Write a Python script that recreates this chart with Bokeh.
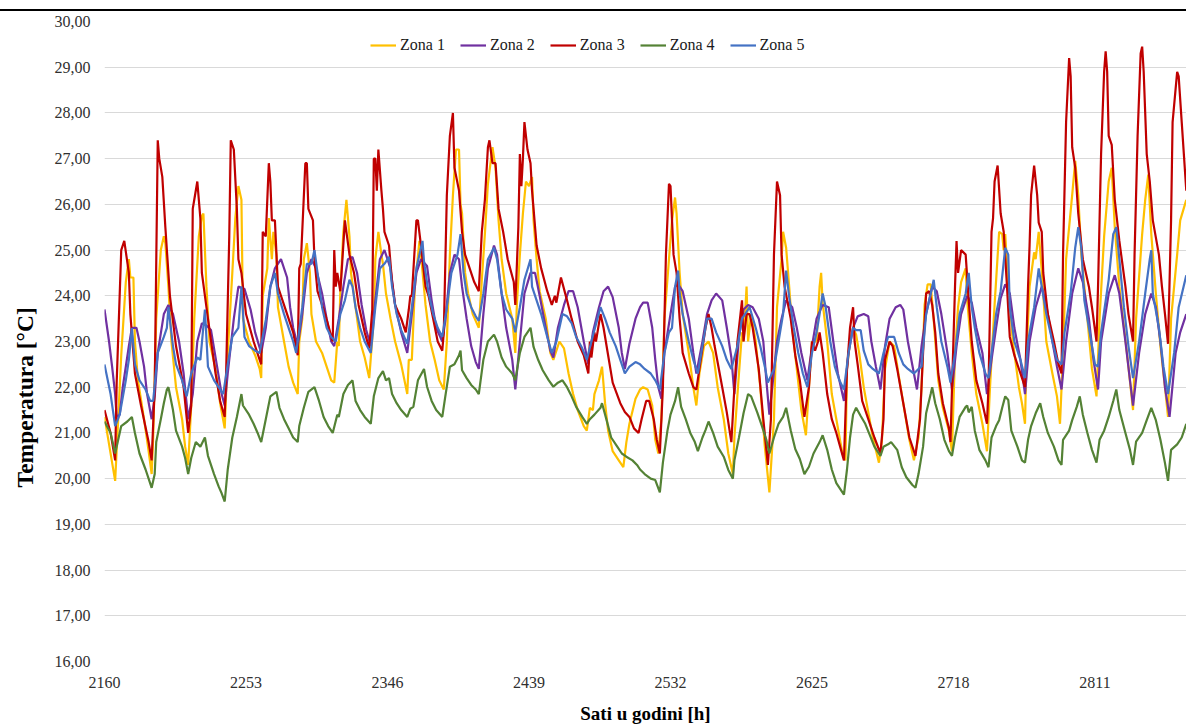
from bokeh.plotting import figure
from bokeh.models import (Range1d, FixedTicker, CustomJSTickFormatter, Legend, LegendItem, Div)
from bokeh.layouts import column
from bokeh.embed import file_html
from bokeh.resources import INLINE

series_names = ["Zona 1", "Zona 2", "Zona 3", "Zona 4", "Zona 5"]
series_colors = ["#FFC000", "#7030A0", "#C00000", "#548235", "#4472C4"]
x_ticks = [2160, 2253, 2346, 2439, 2532, 2625, 2718, 2811]
y_ticks = list(range(16, 31))

# Zona 1
hours_z1 = [2160, 2167, 2169, 2171, 2174, 2176, 2177, 2179, 2180, 2182, 2186, 2189, 2191, 2192, 2194, 2197, 2199, 2200, 2202, 2204,
            2207, 2211, 2213, 2215, 2217, 2219, 2222, 2224, 2225, 2227, 2229, 2233, 2236, 2239, 2241, 2244, 2246, 2248, 2250, 2251,
            2255, 2259, 2262, 2263, 2264, 2267, 2268, 2270, 2271, 2273, 2274, 2278, 2281, 2284, 2287, 2288, 2290, 2291, 2293, 2295,
            2296, 2299, 2303, 2306, 2309, 2311, 2313, 2314, 2315, 2317, 2319, 2321, 2322, 2325, 2328, 2331, 2334, 2337, 2338, 2340,
            2342, 2343, 2345, 2348, 2351, 2355, 2359, 2360, 2362, 2364, 2367, 2368, 2371, 2374, 2377, 2380, 2383, 2385, 2387, 2389,
            2391, 2393, 2394, 2395, 2397, 2399, 2402, 2406, 2408, 2410, 2412, 2415, 2417, 2419, 2421, 2424, 2428, 2430, 2431, 2433,
            2435, 2437, 2439, 2441, 2442, 2444, 2446, 2450, 2453, 2455, 2457, 2459, 2462, 2465, 2468, 2471, 2475, 2477, 2479, 2481,
            2482, 2485, 2487, 2489, 2491, 2494, 2498, 2501, 2503, 2505, 2509, 2512, 2514, 2517, 2520, 2522, 2524, 2526, 2528, 2531,
            2533, 2535, 2536, 2538, 2540, 2544, 2547, 2549, 2551, 2554, 2557, 2560, 2563, 2567, 2570, 2573, 2574, 2577, 2579, 2580,
            2582, 2583, 2585, 2588, 2591, 2594, 2597, 2600, 2602, 2605, 2606, 2608, 2610, 2612, 2615, 2618, 2621, 2623, 2625, 2628,
            2630, 2631, 2632, 2635, 2638, 2641, 2645, 2647, 2648, 2650, 2652, 2654, 2656, 2659, 2662, 2665, 2669, 2671, 2673, 2676,
            2679, 2682, 2685, 2689, 2692, 2695, 2697, 2699, 2701, 2703, 2705, 2708, 2711, 2715, 2717, 2719, 2721, 2723, 2726, 2727,
            2730, 2733, 2737, 2740, 2742, 2745, 2748, 2750, 2751, 2752, 2754, 2757, 2761, 2763, 2765, 2766, 2768, 2771, 2772, 2774,
            2776, 2779, 2783, 2786, 2788, 2790, 2792, 2796, 2798, 2800, 2802, 2806, 2809, 2812, 2814, 2817, 2820, 2822, 2824, 2827,
            2832, 2836, 2838, 2842, 2844, 2846, 2848, 2851, 2854, 2857, 2859, 2861, 2865, 2867, 2871]
temp_z1 = [21.35, 19.95, 21.3, 22.7, 24.3, 24.8, 24.4, 24.4, 23.0, 22.15, 21.3, 20.6, 20.1, 20.9, 23.5, 25.0, 25.3, 25.15, 24.2, 23.0,
           22.0, 21.3, 20.7, 20.3, 21.6, 23.5, 25.3, 25.75, 25.8, 24.2, 23.0, 22.4, 21.65, 21.1, 22.75, 24.5, 25.7, 26.4, 26.1, 23.5,
           23.0, 22.7, 22.4, 22.2, 24.0, 24.6, 25.7, 24.8, 25.4, 24.9, 23.75, 23.0, 22.45, 22.1, 21.85, 23.0, 23.5, 24.8, 25.15, 24.5,
           23.6, 23.0, 22.75, 22.45, 22.15, 22.1, 23.0, 22.9, 24.1, 25.4, 26.1, 25.3, 24.5, 23.75, 23.0, 22.65, 22.2, 23.5, 24.8, 25.4,
           24.9, 24.7, 24.05, 23.5, 23.0, 22.5, 21.85, 22.6, 22.6, 24.2, 25.2, 24.9, 23.8, 23.0, 22.6, 22.15, 21.95, 23.0, 24.9, 26.2,
           27.2, 27.2, 26.0, 25.8, 24.5, 24.05, 23.6, 23.3, 24.35, 25.35, 26.45, 27.25, 26.8, 25.65, 24.8, 24.05, 23.5, 22.75, 23.8, 24.9,
           25.8, 26.5, 26.4, 26.6, 25.65, 24.8, 24.1, 23.5, 22.75, 22.6, 22.8, 23.0, 22.85, 22.3, 21.85, 21.5, 21.15, 21.05, 21.55, 21.5,
           21.85, 22.15, 22.45, 21.65, 21.05, 20.6, 20.4, 20.25, 20.8, 21.2, 21.75, 21.95, 22.0, 21.95, 21.6, 20.85, 20.55, 21.3, 23.5, 24.8,
           25.65, 26.15, 25.8, 24.5, 23.6, 22.75, 22.0, 21.6, 22.3, 22.9, 23.0, 22.75, 22.0, 21.3, 20.55, 20.1, 20.9, 22.3, 23.2, 23.0,
           24.2, 23.0, 23.6, 23.0, 22.0, 20.7, 19.7, 21.3, 23.75, 24.8, 25.4, 25.05, 24.2, 23.3, 22.4, 21.5, 20.95, 22.0, 23.0, 23.0,
           24.2, 24.5, 23.85, 23.0, 21.85, 21.3, 20.55, 20.4, 22.4, 23.0, 23.3, 23.15, 22.75, 22.0, 21.45, 20.9, 20.35, 20.85, 22.4, 23.0,
           22.9, 22.25, 21.65, 20.85, 20.4, 20.9, 22.0, 23.8, 24.25, 24.25, 23.47, 22.15, 21.55, 21.05, 20.6, 22.75, 23.75, 24.3, 24.6, 23.9,
           22.75, 21.85, 21.2, 20.6, 22.0, 23.8, 25.4, 25.35, 25.0, 25.35, 24.2, 23.0, 22.0, 21.65, 21.2, 22.75, 24.2, 24.95, 24.8, 25.4,
           24.55, 23.0, 22.3, 21.8, 21.2, 22.75, 24.8, 26.2, 26.95, 26.2, 24.9, 23.5, 22.4, 21.8, 23.5, 25.3, 26.5, 26.8, 25.5, 24.2,
           22.75, 21.5, 23.5, 25.35, 26.1, 26.65, 25.35, 24.05, 22.9, 22.0, 21.35, 23.5, 24.9, 25.65, 26.1]

# Zona 2
hours_z2 = [2160, 2163, 2165, 2167, 2168, 2170, 2172, 2176, 2178, 2181, 2183, 2186, 2188, 2191, 2193, 2195, 2199, 2202, 2205, 2209,
            2212, 2215, 2218, 2221, 2224, 2227, 2230, 2234, 2237, 2239, 2241, 2245, 2248, 2252, 2256, 2259, 2263, 2266, 2269, 2272,
            2276, 2280, 2282, 2284, 2287, 2290, 2293, 2296, 2299, 2303, 2306, 2309, 2311, 2314, 2317, 2320, 2323, 2326, 2329, 2332,
            2335, 2338, 2341, 2344, 2348, 2351, 2355, 2359, 2362, 2365, 2368, 2372, 2375, 2378, 2382, 2384, 2387, 2390, 2393, 2395,
            2398, 2401, 2404, 2406, 2409, 2412, 2416, 2418, 2421, 2424, 2428, 2430, 2433, 2436, 2440, 2443, 2446, 2450, 2453, 2455,
            2458, 2462, 2465, 2468, 2471, 2475, 2478, 2481, 2485, 2488, 2491, 2494, 2498, 2500, 2502, 2505, 2509, 2512, 2514, 2517,
            2520, 2522, 2524, 2526, 2528, 2532, 2535, 2537, 2540, 2544, 2547, 2549, 2553, 2556, 2559, 2562, 2566, 2569, 2572, 2574,
            2577, 2580, 2583, 2586, 2590, 2593, 2595, 2597, 2600, 2602, 2605, 2608, 2612, 2615, 2618, 2622, 2625, 2628, 2632, 2636,
            2639, 2642, 2646, 2649, 2652, 2655, 2659, 2662, 2664, 2667, 2670, 2673, 2676, 2680, 2683, 2685, 2688, 2692, 2694, 2697,
            2700, 2704, 2707, 2710, 2714, 2717, 2720, 2723, 2727, 2730, 2733, 2737, 2740, 2743, 2746, 2749, 2752, 2755, 2758, 2762,
            2765, 2768, 2772, 2776, 2779, 2783, 2786, 2789, 2792, 2796, 2800, 2803, 2807, 2810, 2813, 2815, 2820, 2824, 2827, 2831,
            2834, 2836, 2840, 2844, 2848, 2851, 2854, 2857, 2860, 2864, 2867, 2871]
temp_z2 = [23.7, 23.0, 22.45, 21.85, 21.35, 21.4, 22.0, 22.9, 23.3, 23.3, 23.0, 22.45, 21.85, 21.3, 21.8, 22.75, 23.6, 23.8, 23.6, 23.0,
           22.3, 21.3, 21.85, 23.0, 23.4, 23.35, 23.25, 22.45, 21.85, 21.6, 22.3, 23.5, 24.2, 24.15, 23.7, 23.2, 22.75, 23.3, 24.2, 24.6,
           24.8, 24.4, 23.75, 23.3, 22.9, 23.6, 24.5, 24.8, 24.6, 24.05, 23.5, 23.0, 22.9, 23.5, 24.2, 24.8, 24.85, 24.5, 23.8, 23.25,
           22.9, 23.9, 24.8, 25.0, 24.6, 23.8, 23.2, 22.75, 23.6, 24.5, 24.8, 24.65, 23.9, 23.3, 23.0, 23.45, 24.5, 24.9, 24.8, 24.2,
           23.5, 22.9, 22.55, 22.4, 23.6, 24.6, 25.1, 24.9, 24.05, 23.3, 22.6, 21.95, 23.0, 24.05, 24.5, 24.5, 24.0, 23.3, 22.8, 22.65,
           23.3, 23.8, 24.1, 24.1, 23.75, 23.0, 22.5, 23.2, 23.75, 24.1, 24.2, 23.97, 23.3, 22.75, 22.4, 22.95, 23.5, 23.75, 23.85, 23.85,
           23.3, 22.6, 22.0, 21.75, 22.75, 23.6, 24.2, 24.25, 24.1, 23.5, 22.75, 22.3, 23.0, 23.6, 23.9, 24.05, 23.9, 23.3, 22.65, 21.85,
           23.1, 23.7, 23.8, 23.75, 23.5, 23.0, 22.15, 21.4, 22.35, 23.0, 23.5, 23.9, 23.75, 23.3, 22.75, 22.15, 22.9, 23.5, 23.8, 23.75,
           23.0, 22.3, 21.7, 22.75, 23.3, 23.55, 23.6, 23.55, 23.0, 22.45, 21.95, 22.9, 23.5, 23.75, 23.8, 23.7, 23.0, 22.3, 21.95, 22.9,
           23.6, 24.2, 24.1, 23.6, 22.75, 21.95, 22.9, 23.6, 24.0, 23.85, 23.3, 22.75, 21.85, 22.6, 23.3, 23.95, 24.25, 24.05, 23.3, 22.6,
           21.85, 23.0, 23.75, 24.2, 23.8, 23.0, 22.45, 21.95, 23.0, 24.05, 24.6, 24.3, 23.5, 22.6, 21.95, 23.0, 24.05, 24.45, 24.05, 23.0,
           22.15, 21.6, 22.75, 23.6, 24.05, 23.75, 23.0, 22.0, 21.35, 22.75, 23.2, 23.6]

# Zona 3
hours_z3 = [2160, 2164, 2167, 2168, 2171, 2173, 2176, 2177, 2180, 2184, 2189, 2191, 2193, 2195, 2196, 2198, 2200, 2203, 2207, 2212,
            2215, 2217, 2218, 2219, 2221, 2223, 2224, 2228, 2233, 2236, 2239, 2240, 2242, 2243, 2245, 2247, 2248, 2250, 2253, 2258,
            2263, 2264, 2266, 2268, 2269, 2270, 2272, 2274, 2276, 2281, 2284, 2287, 2288, 2289, 2292, 2293, 2294, 2297, 2298, 2300,
            2305, 2310, 2311, 2312, 2313, 2315, 2316, 2318, 2319, 2321, 2324, 2327, 2331, 2334, 2336, 2337, 2338, 2339, 2340, 2342,
            2343, 2344, 2347, 2349, 2351, 2355, 2358, 2360, 2361, 2362, 2365, 2366, 2368, 2371, 2373, 2376, 2379, 2382, 2383, 2385,
            2387, 2389, 2390, 2393, 2395, 2397, 2400, 2403, 2406, 2408, 2410, 2412, 2413, 2415, 2417, 2419, 2422, 2425, 2429, 2430,
            2432, 2433, 2434, 2435, 2436, 2438, 2440, 2441, 2444, 2447, 2451, 2454, 2456, 2457, 2460, 2464, 2467, 2471, 2475, 2478,
            2479, 2480, 2482, 2483, 2486, 2488, 2491, 2494, 2499, 2502, 2505, 2508, 2511, 2513, 2516, 2518, 2521, 2523, 2525, 2527,
            2529, 2531, 2532, 2533, 2534, 2536, 2538, 2540, 2544, 2547, 2549, 2551, 2555, 2557, 2559, 2561, 2566, 2569, 2572, 2574,
            2576, 2578, 2579, 2580, 2582, 2584, 2586, 2590, 2593, 2596, 2598, 2600, 2602, 2604, 2605, 2607, 2611, 2614, 2617, 2620,
            2623, 2625, 2627, 2629, 2630, 2632, 2635, 2638, 2641, 2646, 2648, 2650, 2652, 2653, 2655, 2658, 2662, 2666, 2670, 2672,
            2673, 2676, 2678, 2681, 2685, 2689, 2693, 2696, 2698, 2700, 2702, 2704, 2706, 2708, 2711, 2715, 2716, 2719, 2720, 2721,
            2723, 2726, 2728, 2730, 2733, 2737, 2740, 2741, 2743, 2744, 2745, 2747, 2749, 2751, 2753, 2755, 2758, 2762, 2765, 2767,
            2768, 2769, 2771, 2773, 2774, 2776, 2777, 2780, 2784, 2787, 2789, 2790, 2792, 2794, 2795, 2796, 2798, 2800, 2803, 2807,
            2809, 2812, 2813, 2815, 2817, 2818, 2819, 2820, 2822, 2824, 2827, 2831, 2833, 2836, 2837, 2839, 2841, 2842, 2843, 2845,
            2847, 2849, 2853, 2855, 2857, 2859, 2861, 2862, 2865, 2866, 2868, 2871]
temp_z3 = [21.5, 21.0, 20.4, 22.1, 25.0, 25.2, 24.5, 23.6, 22.3, 21.6, 20.8, 20.4, 22.0, 27.4, 27.0, 26.6, 25.5, 24.0, 22.9, 22.0,
           21.0, 21.6, 25.9, 26.1, 26.5, 25.7, 24.5, 23.5, 22.3, 21.7, 21.35, 22.4, 25.3, 27.4, 27.2, 25.9, 24.8, 24.5, 23.6, 23.0,
           22.5, 25.4, 25.3, 26.9, 26.5, 25.65, 25.65, 24.2, 24.0, 23.5, 23.2, 22.7, 24.6, 24.7, 26.9, 26.9, 25.9, 25.65, 24.8, 24.1,
           23.6, 23.0, 25.0, 24.2, 24.5, 24.1, 24.6, 25.65, 25.4, 24.9, 24.5, 23.8, 23.2, 22.85, 23.7, 27.0, 27.0, 26.3, 27.2, 26.3,
           25.9, 25.4, 25.1, 24.3, 23.8, 23.5, 23.2, 23.7, 24.0, 24.0, 25.65, 25.65, 25.1, 24.2, 24.0, 23.5, 23.0, 22.8, 23.2, 26.2,
           27.5, 28.0, 26.8, 26.3, 25.4, 24.9, 24.6, 24.3, 24.1, 25.4, 26.1, 27.25, 27.4, 26.9, 26.9, 25.9, 25.4, 24.8, 24.3, 23.8,
           25.5, 27.1, 26.4, 27.0, 27.8, 27.2, 26.9, 26.3, 25.1, 24.6, 24.1, 23.8, 24.0, 23.85, 24.4, 23.9, 23.5, 23.0, 22.7, 22.3,
           23.0, 22.65, 23.2, 23.0, 23.6, 23.3, 22.7, 22.1, 21.65, 21.46, 21.35, 21.1, 21.0, 21.3, 21.7, 21.7, 21.3, 20.85, 20.55, 22.0,
           24.9, 26.45, 26.4, 25.65, 24.9, 24.5, 23.5, 22.75, 22.3, 22.0, 21.95, 22.4, 23.3, 23.6, 23.3, 22.9, 22.0, 21.45, 20.8, 22.0,
           23.0, 23.6, 23.9, 23.0, 23.6, 23.6, 23.3, 22.4, 21.3, 20.3, 21.3, 24.9, 26.5, 26.2, 24.9, 24.2, 23.5, 22.7, 22.15, 21.35,
           22.0, 23.0, 22.8, 23.0, 23.2, 22.75, 21.85, 21.3, 21.0, 20.4, 22.4, 23.3, 23.75, 23.0, 22.5, 21.7, 21.3, 20.9, 20.55, 21.3,
           22.6, 23.0, 22.9, 22.4, 21.65, 20.9, 20.5, 21.3, 22.75, 24.05, 24.1, 23.8, 23.2, 22.3, 21.65, 21.1, 20.8, 24.2, 25.2, 24.5,
           25.0, 24.9, 23.9, 23.0, 22.15, 21.65, 21.2, 22.0, 25.4, 25.7, 26.5, 26.85, 25.8, 25.4, 24.3, 23.1, 22.7, 22.3, 22.0, 24.2,
           25.1, 26.2, 26.85, 26.2, 25.6, 25.4, 24.5, 23.6, 23.0, 22.5, 22.3, 24.9, 27.8, 29.2, 28.8, 27.25, 26.8, 25.8, 24.8, 24.2,
           23.75, 23.0, 24.2, 27.1, 28.9, 29.35, 28.9, 27.5, 27.3, 26.1, 25.2, 24.2, 23.6, 23.0, 24.9, 27.5, 29.3, 29.45, 28.9, 27.1,
           26.5, 25.65, 24.9, 24.2, 23.6, 22.95, 25.65, 27.8, 28.9, 28.8, 27.8, 26.3]

# Zona 4
hours_z4 = [2160, 2164, 2167, 2169, 2171, 2175, 2178, 2180, 2183, 2187, 2189, 2191, 2193, 2194, 2197, 2199, 2201, 2202, 2205, 2207,
            2211, 2213, 2215, 2217, 2220, 2223, 2226, 2228, 2232, 2235, 2237, 2239, 2241, 2244, 2247, 2250, 2251, 2255, 2258, 2261,
            2263, 2266, 2269, 2271, 2273, 2275, 2278, 2281, 2284, 2287, 2288, 2291, 2294, 2298, 2301, 2304, 2307, 2310, 2313, 2314,
            2317, 2320, 2323, 2325, 2328, 2331, 2335, 2337, 2340, 2343, 2345, 2347, 2349, 2352, 2355, 2359, 2361, 2363, 2366, 2370,
            2372, 2375, 2378, 2382, 2384, 2387, 2390, 2393, 2394, 2395, 2398, 2401, 2404, 2406, 2409, 2412, 2416, 2418, 2421, 2424,
            2428, 2430, 2433, 2436, 2440, 2442, 2445, 2448, 2452, 2455, 2458, 2461, 2464, 2467, 2470, 2474, 2477, 2479, 2482, 2486,
            2487, 2490, 2493, 2497, 2500, 2503, 2507, 2510, 2512, 2515, 2519, 2522, 2525, 2527, 2530, 2532, 2535, 2537, 2539, 2542,
            2545, 2548, 2550, 2553, 2555, 2557, 2560, 2563, 2567, 2570, 2573, 2574, 2577, 2580, 2583, 2585, 2589, 2592, 2595, 2597,
            2600, 2603, 2606, 2608, 2611, 2614, 2617, 2620, 2623, 2626, 2630, 2632, 2635, 2638, 2641, 2646, 2648, 2650, 2652, 2654,
            2657, 2660, 2663, 2666, 2670, 2672, 2675, 2677, 2681, 2684, 2687, 2691, 2693, 2695, 2698, 2700, 2703, 2704, 2706, 2709,
            2712, 2715, 2717, 2719, 2722, 2726, 2727, 2728, 2730, 2732, 2735, 2739, 2741, 2743, 2746, 2748, 2750, 2752, 2754, 2756,
            2760, 2763, 2765, 2767, 2769, 2772, 2775, 2777, 2780, 2784, 2787, 2789, 2790, 2794, 2796, 2799, 2801, 2803, 2806, 2809,
            2812, 2814, 2817, 2820, 2823, 2825, 2827, 2831, 2834, 2836, 2838, 2842, 2845, 2848, 2851, 2854, 2857, 2859, 2861, 2865,
            2868, 2871]
temp_z4 = [21.25, 21.0, 20.55, 20.85, 21.15, 21.25, 21.35, 21.0, 20.55, 20.2, 20.0, 19.8, 20.1, 20.8, 21.3, 21.65, 21.95, 22.0, 21.5, 21.05,
           20.7, 20.45, 20.1, 20.45, 20.8, 20.7, 20.9, 20.5, 20.1, 19.83, 19.68, 19.5, 20.2, 20.9, 21.35, 21.85, 21.6, 21.4, 21.2, 20.97,
           20.8, 21.3, 21.8, 21.85, 21.9, 21.55, 21.3, 21.1, 20.9, 20.8, 21.15, 21.55, 21.9, 22.0, 21.7, 21.35, 21.15, 21.0, 21.4, 21.35,
           21.85, 22.05, 22.15, 21.7, 21.5, 21.35, 21.2, 21.8, 22.2, 22.35, 22.15, 22.2, 21.85, 21.65, 21.5, 21.35, 21.53, 21.57, 22.15, 22.4,
           22.01, 21.7, 21.5, 21.35, 21.8, 22.45, 22.5, 22.7, 22.8, 22.37, 22.2, 22.05, 21.95, 21.85, 22.6, 23.0, 23.15, 23.0, 22.65, 22.45,
           22.3, 22.15, 22.75, 23.1, 23.3, 22.88, 22.6, 22.37, 22.15, 22.01, 22.1, 22.15, 22.0, 21.8, 21.57, 21.35, 21.2, 21.3, 21.4, 21.55,
           21.65, 21.28, 20.9, 20.7, 20.55, 20.48, 20.4, 20.3, 20.2, 20.1, 20.0, 19.97, 19.7, 20.35, 21.05, 21.4, 21.7, 22.0, 21.57, 21.3,
           21.0, 20.8, 20.6, 20.9, 21.06, 21.25, 21.0, 20.7, 20.48, 20.19, 20.0, 20.4, 20.9, 21.43, 21.85, 21.8, 21.45, 21.16, 20.85, 20.55,
           20.9, 21.2, 21.35, 21.55, 21.06, 20.65, 20.43, 20.1, 20.26, 20.55, 20.8, 20.95, 20.63, 20.2, 19.9, 19.65, 20.2, 20.9, 21.4, 21.55,
           21.37, 21.2, 20.95, 20.7, 20.5, 20.7, 20.75, 20.8, 20.63, 20.25, 20.03, 19.86, 19.8, 20.1, 20.7, 21.43, 21.85, 22.0, 21.65, 21.3,
           20.85, 20.6, 20.5, 20.9, 21.35, 21.57, 21.6, 21.45, 21.57, 21.05, 20.63, 20.4, 20.25, 20.9, 21.15, 21.28, 21.55, 21.8, 21.72, 21.05,
           20.7, 20.4, 20.35, 20.85, 21.15, 21.43, 21.65, 21.35, 21.0, 20.7, 20.4, 20.3, 20.85, 21.05, 21.28, 21.57, 21.8, 21.4, 21.0, 20.63,
           20.35, 20.85, 21.05, 21.35, 21.7, 21.95, 21.5, 21.0, 20.63, 20.3, 20.81, 21.0, 21.28, 21.55, 21.28, 20.85, 20.34, 19.95, 20.63, 20.75,
           20.9, 21.2]

# Zona 5
hours_z5 = [2160, 2164, 2167, 2170, 2174, 2176, 2178, 2180, 2183, 2187, 2190, 2192, 2195, 2199, 2201, 2202, 2205, 2207, 2211, 2214,
            2217, 2221, 2223, 2226, 2228, 2232, 2235, 2238, 2241, 2244, 2248, 2250, 2252, 2255, 2259, 2262, 2266, 2269, 2272, 2274,
            2278, 2281, 2284, 2286, 2290, 2293, 2296, 2298, 2300, 2303, 2306, 2309, 2312, 2315, 2318, 2321, 2323, 2325, 2328, 2331,
            2335, 2338, 2341, 2344, 2347, 2349, 2352, 2355, 2359, 2362, 2365, 2369, 2370, 2373, 2376, 2379, 2382, 2385, 2388, 2392,
            2394, 2396, 2398, 2401, 2404, 2406, 2409, 2412, 2416, 2418, 2421, 2424, 2428, 2430, 2433, 2436, 2440, 2441, 2444, 2447,
            2451, 2454, 2457, 2461, 2464, 2467, 2470, 2474, 2477, 2480, 2484, 2486, 2489, 2492, 2496, 2499, 2502, 2505, 2509, 2512,
            2515, 2519, 2522, 2525, 2528, 2531, 2533, 2535, 2537, 2538, 2540, 2544, 2547, 2550, 2553, 2556, 2559, 2562, 2566, 2569,
            2572, 2576, 2579, 2582, 2584, 2588, 2591, 2594, 2596, 2600, 2603, 2606, 2608, 2610, 2613, 2616, 2619, 2622, 2625, 2628,
            2630, 2632, 2634, 2637, 2640, 2643, 2646, 2649, 2652, 2654, 2657, 2659, 2662, 2665, 2669, 2672, 2675, 2679, 2682, 2685,
            2688, 2692, 2695, 2697, 2700, 2704, 2705, 2707, 2710, 2714, 2716, 2719, 2722, 2726, 2728, 2730, 2732, 2735, 2739, 2741,
            2743, 2746, 2749, 2752, 2754, 2755, 2758, 2762, 2765, 2767, 2771, 2774, 2776, 2779, 2783, 2786, 2789, 2791, 2795, 2798,
            2800, 2802, 2804, 2808, 2811, 2813, 2815, 2820, 2823, 2825, 2827, 2830, 2833, 2836, 2840, 2844, 2847, 2848, 2849, 2853,
            2856, 2859, 2863, 2866, 2871]
temp_z5 = [22.5, 21.85, 21.15, 21.4, 22.15, 22.6, 23.3, 22.5, 22.15, 21.95, 21.7, 21.7, 22.75, 23.1, 23.3, 23.75, 22.9, 22.5, 22.15, 21.8,
           22.3, 22.65, 22.6, 23.7, 22.45, 22.15, 22.0, 21.85, 22.5, 23.1, 23.3, 24.2, 23.1, 22.9, 22.8, 22.75, 23.47, 24.2, 24.5, 24.05,
           23.6, 23.3, 23.0, 22.75, 23.75, 24.7, 24.7, 25.0, 24.5, 23.75, 23.3, 23.1, 23.0, 23.6, 23.9, 24.35, 24.2, 23.75, 23.3, 23.0,
           22.75, 23.75, 24.6, 24.7, 24.85, 24.2, 23.6, 23.25, 22.95, 23.75, 24.6, 25.2, 24.75, 24.05, 23.6, 23.3, 23.1, 23.75, 24.5, 24.9,
           25.35, 24.5, 24.05, 23.75, 23.55, 23.45, 24.05, 24.8, 25.05, 24.8, 24.05, 23.7, 23.5, 23.2, 23.75, 24.35, 24.8, 24.2, 23.9, 23.6,
           23.1, 22.75, 23.0, 23.6, 23.55, 23.4, 23.1, 22.85, 22.6, 23.0, 23.5, 23.75, 23.5, 23.2, 22.9, 22.6, 22.3, 22.45, 22.55, 22.5,
           22.4, 22.3, 22.15, 21.95, 22.75, 23.2, 23.3, 24.2, 24.55, 24.05, 23.6, 23.0, 22.6, 22.3, 22.9, 23.5, 23.5, 23.2, 22.9, 22.6,
           22.4, 22.9, 23.5, 23.65, 23.75, 23.3, 22.9, 22.45, 22.1, 22.4, 23.0, 23.6, 24.55, 23.97, 23.3, 22.75, 22.3, 22.0, 22.75, 23.2,
           23.6, 24.05, 23.75, 23.0, 22.45, 22.15, 21.95, 22.75, 23.3, 23.25, 23.25, 22.8, 22.5, 22.4, 22.3, 22.75, 23.1, 23.1, 22.75, 22.5,
           22.4, 22.3, 22.4, 22.45, 23.6, 24.2, 24.35, 23.75, 23.0, 22.45, 22.1, 22.75, 23.6, 24.05, 24.5, 23.75, 23.3, 22.75, 22.3, 22.2,
           22.75, 23.6, 24.1, 25.05, 24.9, 23.75, 23.0, 22.6, 22.2, 23.0, 23.75, 24.6, 24.2, 23.6, 23.0, 22.6, 22.5, 23.2, 24.05, 25.05,
           25.5, 25.05, 23.9, 23.1, 22.5, 22.45, 23.2, 24.35, 25.35, 25.5, 24.8, 23.75, 22.9, 22.2, 23.0, 24.05, 24.8, 25.0, 24.05, 23.3,
           22.45, 21.85, 22.75, 23.75, 24.45]

hours_all = [hours_z1, hours_z2, hours_z3, hours_z4, hours_z5]
temps_all = [temp_z1, temp_z2, temp_z3, temp_z4, temp_z5]

FONT = "Liberation Serif"
px_per_hour = 1.5215
fig_w = 1186
border_left = 104
frame_w = fig_w - border_left

p = figure(width=fig_w, height=715, output_backend="svg", toolbar_location=None,
           x_range=Range1d(2160, 2160 + frame_w / px_per_hour), y_range=Range1d(16, 30),
           min_border_left=border_left, min_border_right=0, min_border_top=10, min_border_bottom=64)
p.outline_line_color = None
p.background_fill_color = "white"
p.border_fill_color = "white"

p.xgrid.grid_line_color = None
p.ygrid.grid_line_color = "#d9d9d9"
p.ygrid.grid_line_width = 1.2

p.xaxis.ticker = FixedTicker(ticks=x_ticks)
p.yaxis.ticker = FixedTicker(ticks=y_ticks)
p.yaxis.formatter = CustomJSTickFormatter(code="return tick.toFixed(2).replace('.', ',');")

for ax in (p.xaxis[0], p.yaxis[0]):
    ax.axis_line_color = None
    ax.major_tick_line_color = None
    ax.minor_tick_line_color = None
    ax.major_tick_in = 0
    ax.major_tick_out = 0
    ax.major_label_text_font = FONT
    ax.major_label_text_font_size = "16px"
    ax.major_label_text_color = "#303030"
    ax.axis_label_text_font = FONT
    ax.axis_label_text_font_style = "bold"
    ax.axis_label_text_color = "black"

p.xaxis.axis_label = "Sati u godini [h]"
p.xaxis.axis_label_text_font_size = "19px"
p.xaxis.major_label_standoff = 15
p.xaxis.axis_label_standoff = 12

# trailing non-breaking / em spaces push the rotated title below the frame centre, as in the original
p.yaxis.axis_label = "Temperatura [°C]" + "\u2003" * 4 + "\u00a0" * 3
p.yaxis.axis_label_text_font_size = "23.5px"
p.yaxis.major_label_standoff = 14
p.yaxis.axis_label_standoff = 14

items = []
for name, color, hx, ty in zip(series_names, series_colors, hours_all, temps_all):
    r = p.line(hx, ty, line_color=color, line_width=2.2)
    items.append(LegendItem(label=name, renderers=[r]))

legend = Legend(items=items, orientation="horizontal", location=(266, 607),
                label_text_font=FONT, label_text_font_size="16px", label_text_color="#1a1a1a",
                glyph_width=26, glyph_height=16, label_standoff=4, spacing=15,
                padding=2, margin=0, border_line_color=None, background_fill_alpha=0)
p.add_layout(legend)

header = Div(text="", width=fig_w, height=11,
             styles={"border-bottom": "2px solid black", "box-sizing": "border-box", "margin": "0", "padding": "0"})
layout = column(header, p, spacing=0)

open("out.html", "w").write(file_html(layout, INLINE))
